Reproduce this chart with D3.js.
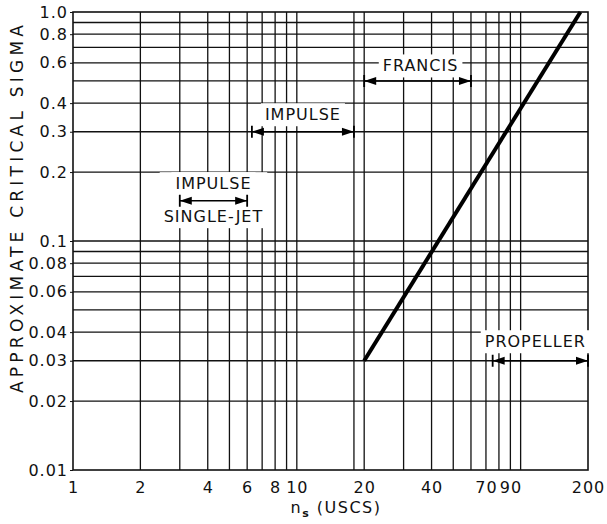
<!DOCTYPE html>
<html>
<head>
    <script src="https://cdnjs.cloudflare.com/ajax/libs/d3/7.8.5/d3.min.js"></script>
    <style>
        body { margin: 0; background: #fff; }
        text {
            font-family: "DejaVu Sans", sans-serif;
            fill: #111;
        }
        .tick-label { font-size: 16px; letter-spacing: 1px; }
        .range-label { font-size: 16px; letter-spacing: 1px; }
        .grid line { stroke: #111; stroke-width: 1.3px; }
    </style>
</head>
<body>
    <div id="chart"></div>
    <script>
        const width = 607, height = 524;

        // vertical grid lines (n_s) and horizontal grid lines (sigma)
        const gridX = [2, 3, 4, 5, 6, 7, 8, 9, 10, 18, 20, 30, 40, 50, 60, 70, 80, 90, 100];
        const gridY = [0.02, 0.03, 0.04, 0.05, 0.06, 0.07, 0.08, 0.09, 0.1,
                       0.2, 0.3, 0.4, 0.5, 0.6, 0.7, 0.8, 0.9];
        const xTickValues = [1, 2, 4, 6, 8, 10, 20, 40, 70, 90, 200];
        const yTickValues = [0.01, 0.02, 0.03, 0.04, 0.06, 0.08, 0.1, 0.2, 0.3, 0.4, 0.6, 0.8, 1.0];
        const yTickLabels = ["0.01", "0.02", "0.03", "0.04", "0.06", "0.08", "0.1", "0.2", "0.3", "0.4", "0.6", "0.8", "1.0"];

        // critical sigma line
        const sigmaNs = [20, 185];
        const sigmaVal = [0.03, 1.0];

        // turbine ranges
        const rangeNames = ["IMPULSE", "IMPULSE", "FRANCIS", "PROPELLER"];
        const rangeSub = ["SINGLE-JET", "", "", ""];
        const rangeFrom = [3, 6.3, 20, 75];
        const rangeTo = [6, 18, 60, 200];
        const rangeSigma = [0.15, 0.3, 0.5, 0.03];

        const mLeft = 73, mRight = 588, mTop = 12, mBottom = 470;

        const svg = d3.select("#chart").append("svg")
            .attr("width", width).attr("height", height);

        const x = d3.scaleLog().domain([1, 200]).range([mLeft, mRight]);
        const y = d3.scaleLog().domain([0.01, 1]).range([mBottom, mTop]);

        const grid = svg.append("g").attr("class", "grid");
        grid.selectAll("line.v")
            .data(gridX)
            .enter().append("line")
            .attr("class", "v")
            .attr("x1", d => x(d)).attr("x2", d => x(d))
            .attr("y1", mTop).attr("y2", mBottom);
        grid.selectAll("line.h")
            .data(gridY)
            .enter().append("line")
            .attr("class", "h")
            .attr("x1", mLeft).attr("x2", mRight)
            .attr("y1", d => y(d)).attr("y2", d => y(d));

        // frame
        svg.append("rect")
            .attr("x", mLeft).attr("y", mTop)
            .attr("width", mRight - mLeft).attr("height", mBottom - mTop)
            .attr("fill", "none").attr("stroke", "#111").attr("stroke-width", 1.6);

        // axes
        const xAxis = d3.axisBottom(x)
            .tickValues(xTickValues)
            .tickFormat(d => d)
            .tickSize(0).tickPadding(9);
        const gx = svg.append("g").attr("transform", `translate(0,${mBottom})`).call(xAxis);
        gx.select(".domain").remove();
        gx.attr("font-size", null).attr("font-family", null);
        gx.selectAll("text").attr("class", "tick-label").attr("fill", "#111")
            .attr("dy", "0.85em");

        const yAxis = d3.axisLeft(y)
            .tickValues(yTickValues)
            .tickFormat((d, i) => yTickLabels[i])
            .tickSize(3).tickPadding(2);
        const gy = svg.append("g").attr("transform", `translate(${mLeft},0)`).call(yAxis);
        gy.select(".domain").remove();
        gy.attr("font-size", null).attr("font-family", null);
        gy.selectAll("line").attr("stroke", "#111");
        gy.selectAll("text").attr("class", "tick-label").attr("fill", "#111");

        // axis titles
        svg.append("text")
            .attr("transform", `translate(23,209) rotate(-90)`)
            .attr("text-anchor", "middle")
            .attr("textLength", 368)
            .attr("lengthAdjust", "spacing")
            .style("font-size", "17px")
            .text("APPROXIMATE CRITICAL SIGMA");

        const xt = svg.append("text")
            .attr("x", 336).attr("y", 513)
            .attr("text-anchor", "middle")
            .style("font-size", "16px")
            .style("letter-spacing", "1.5px");
        xt.append("tspan").text("n");
        xt.append("tspan").attr("dy", 4).style("font-size", "11px").style("font-weight", "bold").text("s");
        xt.append("tspan").attr("dy", -4).text(" (USCS)");

        // sigma line
        const pts = sigmaNs.map((d, i) => [d, sigmaVal[i]]);
        svg.append("path")
            .datum(pts)
            .attr("fill", "none")
            .attr("stroke", "#000")
            .attr("stroke-width", 4)
            .attr("d", d3.line().x(d => x(d[0])).y(d => y(d[1])));

        // range arrows with labels
        const labelDy = [-17, -17, -15, -19];
        const labelDx = [0, 0, 3, -5];
        rangeNames.forEach((name, i) => {
            const x0 = x(rangeFrom[i]), x1 = x(rangeTo[i]), yy = y(rangeSigma[i]);
            const cx = (x0 + x1) / 2 + labelDx[i];
            const g = svg.append("g");

            const lab = g.append("text")
                .attr("class", "range-label")
                .attr("x", cx).attr("y", yy + labelDy[i])
                .attr("text-anchor", "middle")
                .attr("dominant-baseline", "central")
                .text(name);
            const b = lab.node().getBBox();
            g.insert("rect", "text")
                .attr("x", b.x - 4).attr("y", b.y - 2)
                .attr("width", b.width + 8).attr("height", b.height + 4)
                .attr("fill", "#fff");

            if (rangeSub[i]) {
                const sub = g.append("text")
                    .attr("class", "range-label")
                    .attr("x", cx).attr("y", yy + 16)
                    .attr("text-anchor", "middle")
                    .attr("dominant-baseline", "central")
                    .text(rangeSub[i]);
                const sb = sub.node().getBBox();
                // mask grid behind both labels and the arrow
                g.insert("rect", "text")
                    .attr("x", Math.min(b.x, sb.x) - 4).attr("y", b.y - 2)
                    .attr("width", Math.max(b.width, sb.width) + 8)
                    .attr("height", sb.y + sb.height - b.y + 4)
                    .attr("fill", "#fff");
            }

            g.append("line")
                .attr("x1", x0).attr("x2", x1)
                .attr("y1", yy).attr("y2", yy)
                .attr("stroke", "#000").attr("stroke-width", 1.6);
            g.append("path")
                .attr("d", `M${x0},${yy} l12,-4 l0,8 Z M${x1},${yy} l-12,-4 l0,8 Z`)
                .attr("fill", "#000");
            g.append("path")
                .attr("d", `M${x0},${yy - 6} V${yy + 6} M${x1},${yy - 6} V${yy + 6}`)
                .attr("stroke", "#000").attr("stroke-width", 1.8);
        });
    </script>
</body>
</html>
